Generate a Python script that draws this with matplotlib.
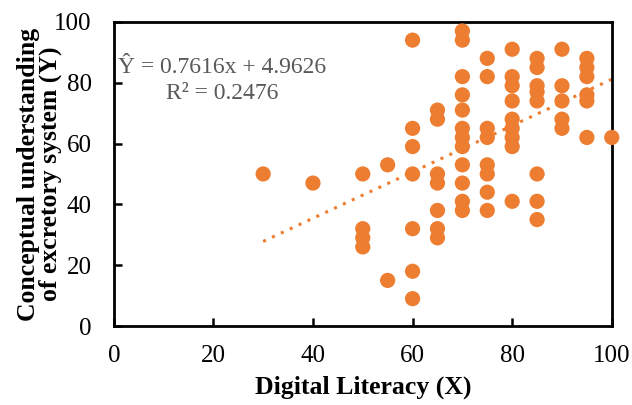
import numpy as np
import matplotlib.pyplot as plt

# Digital literacy (X) and conceptual understanding (Y) scores
x_vals = [30, 40,
          50, 50, 50, 50,
          55, 55,
          60, 60, 60, 60, 60, 60, 60,
          65, 65, 65, 65, 65, 65, 65,
          70, 70, 70, 70, 70, 70, 70, 70, 70, 70, 70, 70,
          75, 75, 75, 75, 75, 75, 75, 75,
          80, 80, 80, 80, 80, 80, 80, 80, 80,
          85, 85, 85, 85, 85, 85, 85, 85,
          90, 90, 90, 90, 90,
          95, 95, 95, 95, 95, 95,
          100]
y_vals = [50, 47,
          50, 32, 29, 26,
          53, 15,
          94, 65, 59, 50, 32, 18, 9,
          71, 68, 50, 47, 38, 32, 29,
          97, 94, 82, 76, 71, 65, 62, 59, 53, 47, 41, 38,
          88, 82, 65, 62, 53, 50, 44, 38,
          91, 82, 79, 74, 68, 65, 62, 59, 41,
          88, 85, 79, 77, 74, 50, 41, 35,
          91, 79, 74, 68, 65,
          88, 85, 82, 76, 74, 62,
          62]

slope = 0.7616
intercept = 4.9626
r2 = 0.2476

xticks = [0, 20, 40, 60, 80, 100]
yticks = [0, 20, 40, 60, 80, 100]

plt.rcParams['font.family'] = ['Liberation Serif', 'DejaVu Serif']

fig = plt.figure(figsize=(6.32, 4.05), dpi=100)
ax = fig.add_axes([0.180, 0.195, 0.788, 0.751])

orange = '#ED7D31'
ax.scatter(x_vals, y_vals, s=120, color=orange, edgecolors='none', zorder=3, clip_on=False)

# trend line
tx = np.array([min(x_vals), max(x_vals)])
ax.plot(tx, slope * tx + intercept, color=orange, linestyle=(0, (1, 2.2)),
        linewidth=2.2, zorder=2)

ax.text(0.008, 0.85, "Ŷ = 0.7616x + 4.9626", transform=ax.transAxes,
        fontsize=17, color='#595959', ha='left', va='center')
ax.text(0.105, 0.765, "R² = 0.2476", transform=ax.transAxes,
        fontsize=17, color='#595959', ha='left', va='center')

ax.set_xlim(0, 100)
ax.set_ylim(0, 100)
ax.set_xticks(xticks)
ax.set_yticks(yticks)
ax.tick_params(direction='in', length=6, width=1.8, labelsize=18, colors='black')
ax.tick_params(axis='x', pad=14)
ax.tick_params(axis='y', pad=16)

for side in ['left', 'bottom', 'right', 'top']:
    ax.spines[side].set_linewidth(2)
    ax.spines[side].set_color('black')

ax.set_xlabel("Digital Literacy (X)", fontsize=18.5, fontweight='bold', labelpad=6)
ax.set_ylabel("Conceptual understanding\nof excretory system (Y)", fontsize=18.5,
              fontweight='bold', linespacing=0.95)
ax.yaxis.set_label_coords(-0.103, 0.5)

plt.savefig("out.png", dpi=100)
